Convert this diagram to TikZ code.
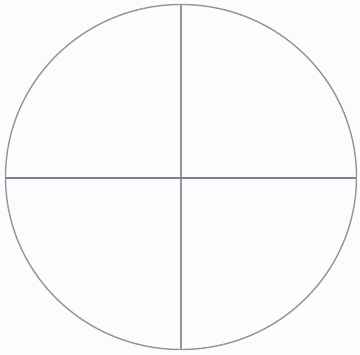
\documentclass[tikz,border=0pt]{standalone}
\usepackage{tikz}
\definecolor{bgpaper}{RGB}{253,251,253}
\definecolor{rimgray}{RGB}{150,150,150}
\definecolor{axisgray}{RGB}{125,128,142}

\begin{document}
\begin{tikzpicture}[x=0.02cm,y=-0.02cm,thick]
            \useasboundingbox (0,0) rectangle (360,355);
            \fill[bgpaper] (0,0) rectangle (360,355);
            \coordinate (c) at (181,177);
            \draw[color = rimgray] (c) ellipse [x radius=175.5, y radius=172.5];
            \draw[color = rimgray] (181,4.5) -- (181,349.5);
            \draw[color = axisgray] (5.5,178) -- (356.5,178);
        \end{tikzpicture}
\end{document}
